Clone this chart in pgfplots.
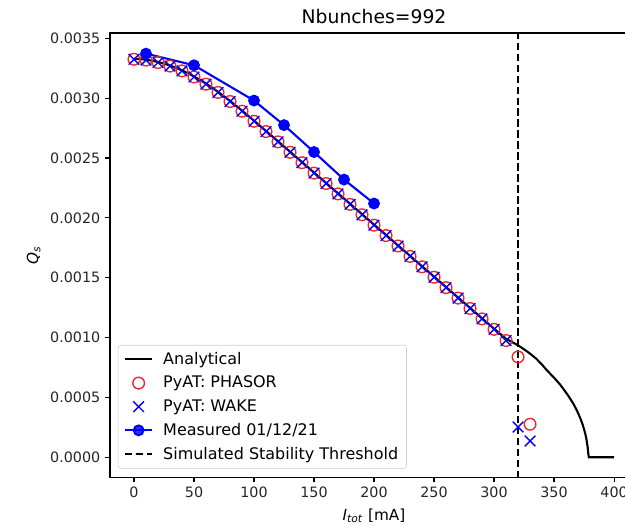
\documentclass[border=0pt]{standalone}
\usepackage{fontspec}
\setmainfont{DejaVu Sans}
\usepackage{pgfplots}
\pgfplotsset{compat=1.18}
\usepackage{pgfplotstable}
\definecolor{mplred}{RGB}{235,40,40}
\definecolor{legendgray}{RGB}{204,204,204}

\pgfplotstableread{
I Q
0 0.003330
10 0.003322
20 0.003303
30 0.003273
40 0.003233
50 0.003182
60 0.003122
70 0.003053
80 0.002977
90 0.002896
100 0.002812
110 0.002726
120 0.002640
130 0.002553
140 0.002466
150 0.002379
160 0.002292
170 0.002205
180 0.002118
190 0.002031
200 0.001944
210 0.001857
220 0.001770
230 0.001683
240 0.001596
250 0.001509
260 0.001422
270 0.001335
280 0.001248
290 0.001161
300 0.001074
310 0.000990
320 0.000935
325 0.000902
330 0.000866
335 0.000825
340 0.000774
344 0.000727
350 0.000665
355 0.000608
358 0.000568
362 0.000512
366 0.000449
369 0.000392
372 0.000323
374 0.000268
376 0.000198
377 0.000150
378 0.000086
378.6 0.000025
379 0.000000
400 0.000000
}\analytical

\pgfplotstableread{
I Q
0 0.003325
10 0.003318
20 0.003298
30 0.003268
40 0.003228
50 0.003177
60 0.003117
70 0.003048
80 0.002972
90 0.002891
100 0.002807
110 0.002721
120 0.002635
130 0.002548
140 0.002461
150 0.002374
160 0.002287
170 0.002200
180 0.002113
190 0.002026
200 0.001939
210 0.001852
220 0.001765
230 0.001678
240 0.001591
250 0.001504
260 0.001417
270 0.001330
280 0.001243
290 0.001156
300 0.001069
310 0.000975
320 0.000838
330 0.000276
}\phasor

\pgfplotstableread{
I Q
0 0.003325
10 0.003318
20 0.003298
30 0.003268
40 0.003228
50 0.003177
60 0.003117
70 0.003048
80 0.002972
90 0.002891
100 0.002807
110 0.002721
120 0.002635
130 0.002548
140 0.002461
150 0.002374
160 0.002287
170 0.002200
180 0.002113
190 0.002026
200 0.001939
210 0.001852
220 0.001765
230 0.001678
240 0.001591
250 0.001504
260 0.001417
270 0.001330
280 0.001243
290 0.001156
300 0.001069
310 0.000975
320 0.000253
330 0.000136
}\wake

\pgfplotstableread{
I Q
10 0.003372
50 0.003275
100 0.002980
125 0.002775
150 0.002550
175 0.002320
200 0.002120
}\measured

\begin{document}
\begin{tikzpicture}
\begin{axis}[
  scale only axis,
  width=380.2pt, height=320pt,
  xmin=-20, xmax=420,
  ymin=-0.000169, ymax=0.003544,
  xtick={0,50,100,150,200,250,300,350,400},
  ytick={0,0.0005,0.001,0.0015,0.002,0.0025,0.003,0.0035},
  scaled y ticks=false,
  yticklabel style={/pgf/number format/.cd, fixed, fixed zerofill, precision=4},
  /pgf/number format/assume math mode=true,
  tick align=outside,
  major tick length=3.5pt,
  tick style={line width=0.8pt, black},
  axis line style={line width=0.8pt},
  xtick pos=bottom, ytick pos=left,
  ticklabel style={font=\fontsize{10.3}{12}\selectfont, text=black!85},
  label style={font=\fontsize{11}{13}\selectfont},
  xlabel style={yshift=-1pt},
  title={Nbunches=992},
  title style={font=\fontsize{13.5}{15}\selectfont, yshift=-3pt},
  xlabel={\textit{I}\textsubscript{\textit{tot}} [mA]},
  ylabel={\textit{Q}\textsubscript{\textit{s}}},
  legend style={at={(0.015,0.02)}, anchor=south west,
    font=\fontsize{11.5}{13}\selectfont,
    draw=legendgray, rounded corners=2pt, fill=white, fill opacity=0.8, text opacity=1,
    row sep=3pt, column sep=5pt, inner xsep=4pt, inner ysep=3pt},
  legend cell align=left,
  legend image code/.code={\draw[mark repeat=2, mark phase=2, #1] plot coordinates {(0cm,0cm) (0.35cm,0cm) (0.7cm,0cm)};},
]
\addplot[black, line width=1.5pt] table[x=I, y=Q] {\analytical};
\addlegendentry{Analytical}
\addplot[only marks, mark=o, mark size=4.2pt, mplred, mark options={line width=1pt}]
  table[x=I, y=Q] {\phasor};
\addlegendentry{PyAT: PHASOR}
\addplot[only marks, mark=x, mark size=5.4pt, blue, mark options={line width=1pt}]
  table[x=I, y=Q] {\wake};
\addlegendentry{PyAT: WAKE}
\addplot[blue, line width=1.5pt, mark=*, mark size=3.5pt] table[x=I, y=Q] {\measured};
\addlegendentry{Measured 01/12/21}
\addplot[black, line width=1.5pt, dash pattern=on 5.5pt off 2.4pt] coordinates {(320,-0.001) (320,0.004)};
\addlegendentry{Simulated Stability Threshold}
\end{axis}
\pgfresetboundingbox
\useasboundingbox (-79.2pt,-36.7pt) rectangle (370.8pt,343.8pt);
\end{tikzpicture}
\end{document}
